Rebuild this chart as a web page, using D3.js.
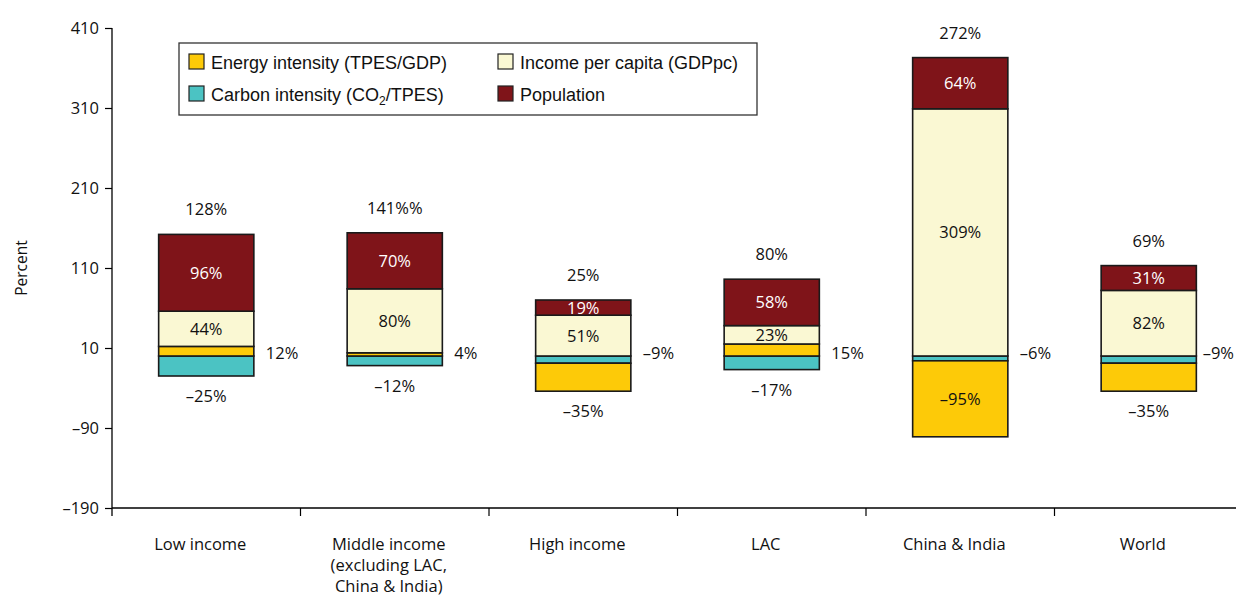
<!DOCTYPE html>
<html>
<head>
<meta charset="utf-8">
<script src="https://cdn.jsdelivr.net/npm/d3@7"></script>
<style>
  body { margin: 0; background: #fff; }
  text { font-family: "Open Sans", "Noto Sans", sans-serif; fill: #111; }
  .legend text { font-family: "Liberation Sans", Arial, sans-serif; }
</style>
</head>
<body>
<svg id="chart" width="1236" height="598"></svg>
<script>
// data
const categories = [
  ["Low income"],
  ["Middle income", "(excluding LAC,", "China & India)"],
  ["High income"],
  ["LAC"],
  ["China & India"],
  ["World"]
];
const energy = [12, 4, -35, 15, -95, -35];       // Energy intensity (TPES/GDP)
const carbon = [-25, -12, -9, -17, -6, -9];      // Carbon intensity (CO2/TPES)
const income = [44, 80, 51, 23, 309, 82];        // Income per capita (GDPpc)
const population = [96, 70, 19, 58, 64, 31];     // Population
const totalLabels = ["128%", "141%%", "25%", "80%", "272%", "69%"];
const yTicks = [-190, -90, 10, 110, 210, 310, 410];

const keys = ["carbon", "energy", "income", "population"];
const colors = { energy: "#fdca08", carbon: "#4bc3c3", income: "#faf8d3", population: "#7f1419" };
const legendItems = [
  { key: "energy", label: "Energy intensity (TPES/GDP)" },
  { key: "income", label: "Income per capita (GDPpc)" },
  { key: "carbon", label: "Carbon intensity (CO|2|/TPES)" },
  { key: "population", label: "Population" }
];

const rows = categories.map((c, i) => ({
  name: c.join(" "), lines: c,
  energy: energy[i], carbon: carbon[i], income: income[i], population: population[i],
  total: totalLabels[i]
}));

const svg = d3.select("#chart");
const W = 1236;
const axisX = 112;

const y = d3.scaleLinear().domain([-190, 410]).range([508, 28]);
const x = d3.scaleBand().domain(rows.map(d => d.name)).range([axisX, 1243]);
const barW = x.bandwidth() * 0.505;

const fmt = v => (v < 0 ? "\u2013" + Math.abs(v) : String(v));
const pct = v => fmt(v) + "%";

// axes
const yAxis = svg.append("g")
  .attr("transform", `translate(${axisX},0)`)
  .call(d3.axisLeft(y).tickValues(yTicks).tickSize(7).tickFormat(fmt));
yAxis.select(".domain").attr("d", `M0,${y(410)}V${y(-190) + 8}`).attr("stroke-width", 1.3);
yAxis.selectAll("text").attr("font-size", 16.5).attr("fill", "#111").attr("x", -13);
yAxis.selectAll(".tick line").attr("stroke-width", 1.2);

const xAxis = svg.append("g").attr("transform", `translate(0,${y(-190)})`);
xAxis.append("line").attr("x1", axisX).attr("x2", W)
  .attr("stroke", "#000").attr("stroke-width", 1.3);
xAxis.selectAll(".tick").data(rows.slice(1)).enter().append("line")
  .attr("x1", d => x(d.name)).attr("x2", d => x(d.name))
  .attr("y1", 0).attr("y2", 8).attr("stroke", "#000").attr("stroke-width", 1.2);
xAxis.selectAll(".cat").data(rows).enter().append("text")
  .attr("text-anchor", "middle")
  .attr("font-size", 16.5)
  .attr("transform", d => `translate(${x(d.name) + x.bandwidth() / 2 - 6},42)`)
  .selectAll("tspan").data(d => d.lines).enter().append("tspan")
  .attr("x", 0).attr("dy", (t, i) => i === 0 ? 0 : 21).text(t => t);

svg.append("text")
  .attr("transform", `translate(27,${y(110)}) rotate(-90)`)
  .attr("text-anchor", "middle").attr("font-size", 15.5)
  .text("Percent");

// stacked bars
const series = d3.stack().keys(keys).offset(d3.stackOffsetDiverging)(rows);

const g = svg.append("g");
series.forEach(s => {
  g.selectAll(null).data(s).enter().append("rect")
    .attr("x", d => x(d.data.name) + (x.bandwidth() - barW) / 2)
    .attr("width", barW)
    .attr("y", d => y(Math.max(d[0], d[1])))
    .attr("height", d => Math.abs(y(d[0]) - y(d[1])))
    .attr("fill", colors[s.key])
    .attr("stroke", "#1a1a1a").attr("stroke-width", 1.6);
});

// labels inside income / population segments
series.filter(s => s.key === "income" || s.key === "population").forEach(s => {
  g.selectAll(null).data(s).enter().append("text")
    .attr("x", d => x(d.data.name) + x.bandwidth() / 2)
    .attr("y", d => (y(d[0]) + y(d[1])) / 2)
    .attr("dy", "0.36em")
    .attr("text-anchor", "middle").attr("font-size", 16.5)
    .style("fill", s.key === "population" ? "#fff" : "#111")
    .text(d => pct(d.data[s.key]));
});

// energy / carbon labels: bottom segment below the bar (inside if tall), the other to the right
rows.forEach((r, i) => {
  const cx = x(r.name) + x.bandwidth() / 2;
  const segs = ["carbon", "energy"].map(k => {
    const d = series.find(s => s.key === k)[i];
    return { key: k, lo: Math.min(d[0], d[1]), hi: Math.max(d[0], d[1]) };
  });
  const bottom = segs[0].lo <= segs[1].lo ? segs[0] : segs[1];
  const other = bottom === segs[0] ? segs[1] : segs[0];
  const h = y(bottom.lo) - y(bottom.hi);
  g.append("text")
    .attr("x", cx)
    .attr("y", h > 40 ? (y(bottom.lo) + y(bottom.hi)) / 2 : y(bottom.lo) + 20)
    .attr("dy", "0.36em")
    .attr("text-anchor", "middle").attr("font-size", 16.5)
    .text(pct(r[bottom.key]));
  const side = g.append("text")
    .attr("y", y(0) - 3)
    .attr("dy", "0.36em")
    .attr("font-size", 16.5)
    .text(pct(r[other.key]));
  const tw = side.node().getComputedTextLength();
  side.attr("x", Math.min(cx + barW / 2 + 12, W - 2 - tw));
  const top = d3.max(series, s => s[i][1]);
  g.append("text")
    .attr("x", cx)
    .attr("y", y(top) - 25)
    .attr("dy", "0.36em")
    .attr("text-anchor", "middle").attr("font-size", 16.5)
    .text(r.total);
});

// legend
const lg = svg.append("g").attr("class", "legend");
lg.append("rect").attr("x", 179).attr("y", 43).attr("width", 578).attr("height", 72)
  .attr("fill", "#fff").attr("stroke", "#333").attr("stroke-width", 1.3);
const li = lg.selectAll(".item").data(legendItems).enter().append("g")
  .attr("transform", (d, i) => `translate(${i % 2 === 0 ? 189 : 498},${i < 2 ? 54 : 86})`);
li.append("rect").attr("width", 15).attr("height", 15)
  .attr("fill", d => colors[d.key]).attr("stroke", "#222").attr("stroke-width", 1.2);
li.each(function (d) {
  const t = d3.select(this).append("text").attr("x", 22).attr("y", 14.5).attr("font-size", 18);
  d.label.split("|").forEach((part, j) => {
    const sp = t.append("tspan").text(part);
    if (j === 1) sp.attr("font-size", 12).attr("dy", 4);
    if (j === 2) sp.attr("dy", -4);
  });
});
</script>
</body>
</html>
